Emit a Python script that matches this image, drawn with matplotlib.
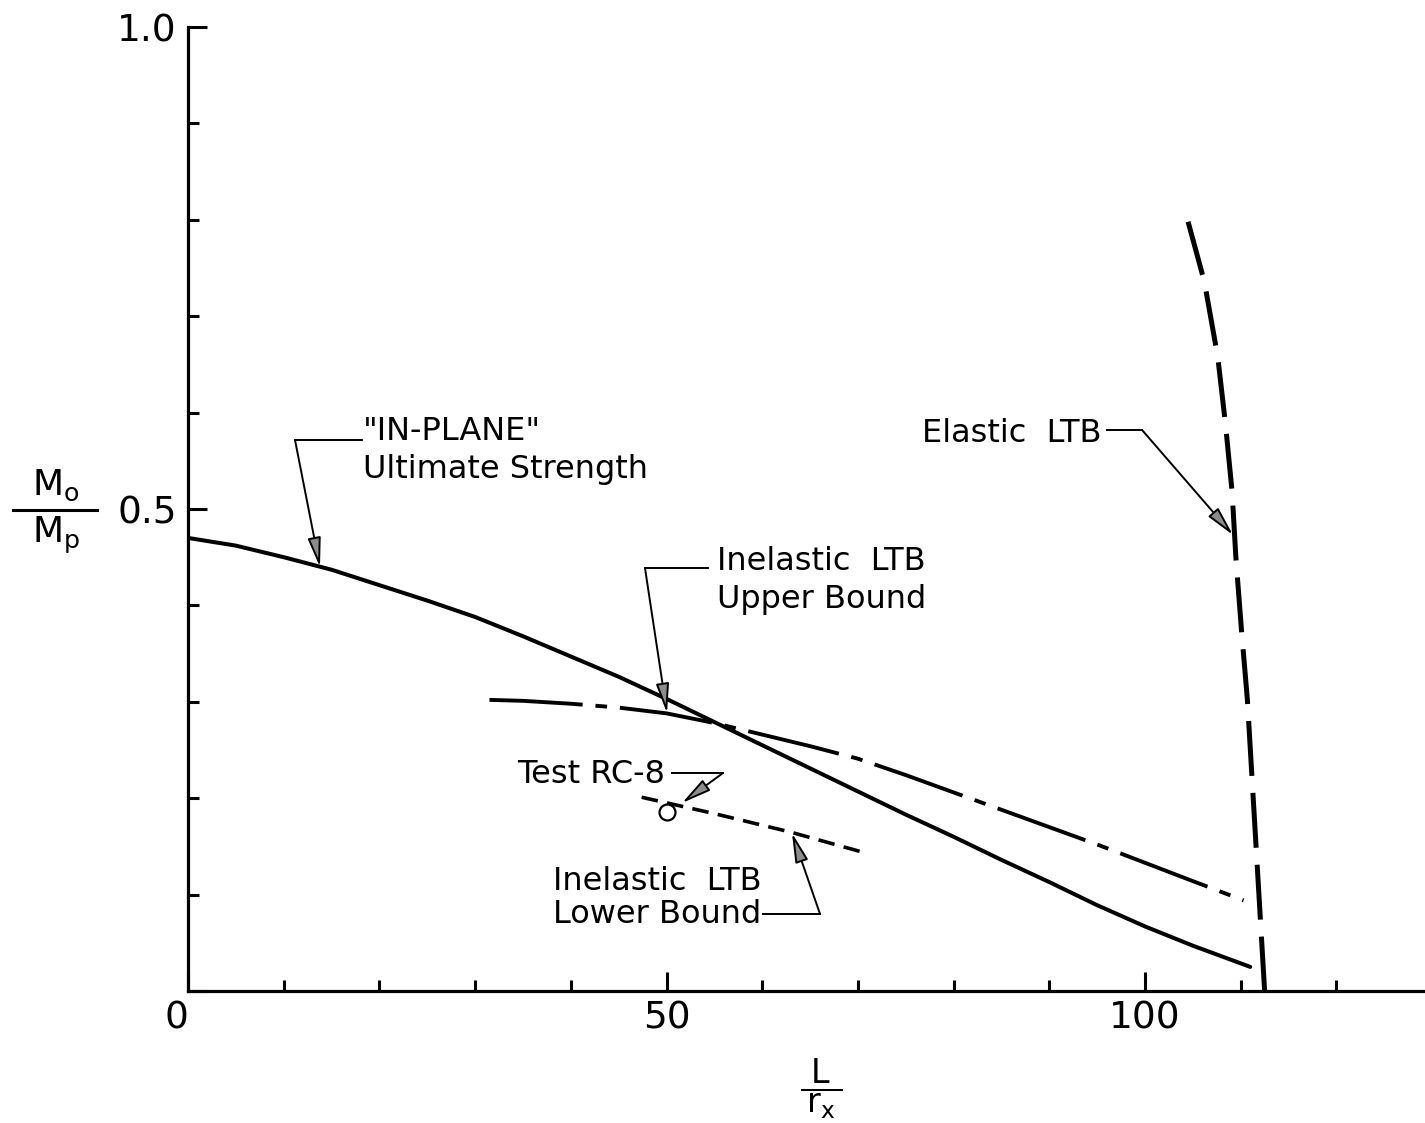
import numpy as np
import matplotlib.pyplot as plt
from matplotlib.lines import Line2D

# "IN-PLANE" ultimate strength (solid)
L_inplane = [0, 5, 10, 15, 20, 25, 30, 35, 40, 45, 50, 55, 60, 65, 70,
             75, 80, 85, 90, 95, 100, 105, 111]
M_inplane = [0.470, 0.462, 0.450, 0.437, 0.421, 0.405, 0.388, 0.368, 0.347,
             0.326, 0.303, 0.279, 0.255, 0.231, 0.207, 0.183, 0.160, 0.136,
             0.113, 0.089, 0.067, 0.047, 0.025]

# inelastic LTB upper bound (dash-dot)
L_upper = [31.5, 35, 40, 45, 50, 55, 60, 65, 70, 75, 80, 85, 90, 95, 100, 105, 110.3]
M_upper = [0.302, 0.301, 0.298, 0.294, 0.288, 0.278, 0.266, 0.254, 0.241,
           0.224, 0.206, 0.188, 0.170, 0.152, 0.133, 0.114, 0.094]

# inelastic LTB lower bound (dashed)
L_lower = [47.4, 55, 62.9, 70.5]
M_lower = [0.201, 0.184, 0.165, 0.144]

# elastic LTB (long dashes)
L_elastic = [104.5, 106.2, 107.6, 108.4, 109.1, 109.5, 110.1, 110.7, 111.6, 112.5]
M_elastic = [0.798, 0.736, 0.658, 0.589, 0.518, 0.449, 0.372, 0.302, 0.151, 0.0]

# test RC-8
L_test = [50.05]
M_test = [0.186]

W, H = 1425, 1123
fig = plt.figure(figsize=(W / 100, H / 100), dpi=100)
ax = fig.add_axes([188 / W, 132 / H, (W - 188) / W, 964 / H])

ax.plot(L_inplane, M_inplane, color='k', lw=2.9, solid_capstyle='round')
ax.plot(L_upper, M_upper, color='k', lw=2.8, dashes=(24, 3.3, 3.0, 3.3))
ax.plot(L_lower, M_lower, color='k', lw=2.6, dashes=(4.6, 2.6))
ax.plot(L_elastic, M_elastic, color='k', lw=3.6, dashes=(11, 3.4))
ax.plot(L_test, M_test, 'o', ms=11.5, mfc='white', mec='k', mew=1.6)

ax.set_xlim(0, (W - 188) / 9.57)
ax.set_ylim(0, 1.0)

ax.spines['top'].set_visible(False)
ax.spines['right'].set_visible(False)
ax.spines['left'].set_linewidth(2.3)
ax.spines['bottom'].set_linewidth(2.3)

ax.set_xticks([0, 50, 100])
ax.set_xticklabels(['0', '50', '100'])
ax.set_xticks(np.arange(0, 130, 10), minor=True)
ax.set_yticks([0, 0.5, 1.0])
ax.set_yticklabels(['', '0.5', '1.0'])
ax.set_yticks(np.arange(0, 1.01, 0.1), minor=True)
ax.tick_params(which='major', direction='in', length=14, width=2.2, labelsize=27)
ax.tick_params(which='minor', direction='in', length=8, width=2.2)
ax.tick_params(axis='x', which='major', pad=7)
ax.tick_params(axis='y', which='major', pad=8)
ax.get_xticklabels()[0].set_ha('right')

fs = 23
arrow = dict(arrowstyle='-|>,head_length=0.9,head_width=0.2', mutation_scale=20,
             lw=1.4, fc='0.55', ec='k', shrinkA=0, shrinkB=0)


def leader(text_end, corner, tip):
    ax.plot([text_end[0], corner[0]], [text_end[1], corner[1]], color='k', lw=1.4)
    ax.annotate('', xy=tip, xytext=corner, arrowprops=arrow)


# two-line labels: y is the baseline of the second line
# "IN-PLANE" ultimate strength
ax.text(18.3, 0.5322, '"IN-PLANE"\nUltimate Strength', fontsize=fs,
        ha='left', va='baseline', multialignment='left', linespacing=1.28)
leader((18.2, 0.5716), (11.18, 0.5716), (13.79, 0.4398))

# inelastic upper bound
ax.text(77.1, 0.3973, 'Inelastic  LTB\nUpper Bound', fontsize=fs,
        ha='right', va='baseline', multialignment='right', linespacing=1.28)
leader((54.3, 0.4388), (47.75, 0.4388), (50.05, 0.2884))

# test RC-8
ax.text(49.84, 0.2158, 'Test RC-8', fontsize=fs, ha='right', va='baseline')
leader((50.57, 0.2261), (55.9, 0.2261), (51.62, 0.1950))

# inelastic lower bound
ax.text(49.0, 0.0705, 'Inelastic  LTB\nLower Bound', fontsize=fs,
        ha='center', va='baseline', multialignment='center', linespacing=1.07)
leader((60.08, 0.0799), (66.04, 0.0799), (63.11, 0.1639))

# elastic LTB
ax.text(95.5, 0.5695, 'Elastic  LTB', fontsize=fs, ha='right', va='baseline')
leader((96.03, 0.5820), (99.69, 0.5820), (109.2, 0.4730))


def fx(px):
    return px / W


def fy(py):
    return 1 - py / H


# y label  Mo / Mp
fig.text(fx(56), fy(495), r'M$_\mathregular{o}$', fontsize=26, ha='center', va='baseline')
fig.add_artist(Line2D([fx(13), fx(97)], [fy(510), fy(510)], color='k', lw=2.2))
fig.text(fx(56), fy(543), r'M$_\mathregular{p}$', fontsize=26, ha='center', va='baseline')

# x label  L / rx
fig.text(fx(821), fy(1121), r'$\dfrac{\mathregular{\ L\ }}{\mathregular{r}_\mathregular{x}}$',
         fontsize=24, ha='center', va='bottom')

fig.savefig('out.png', dpi=100)
